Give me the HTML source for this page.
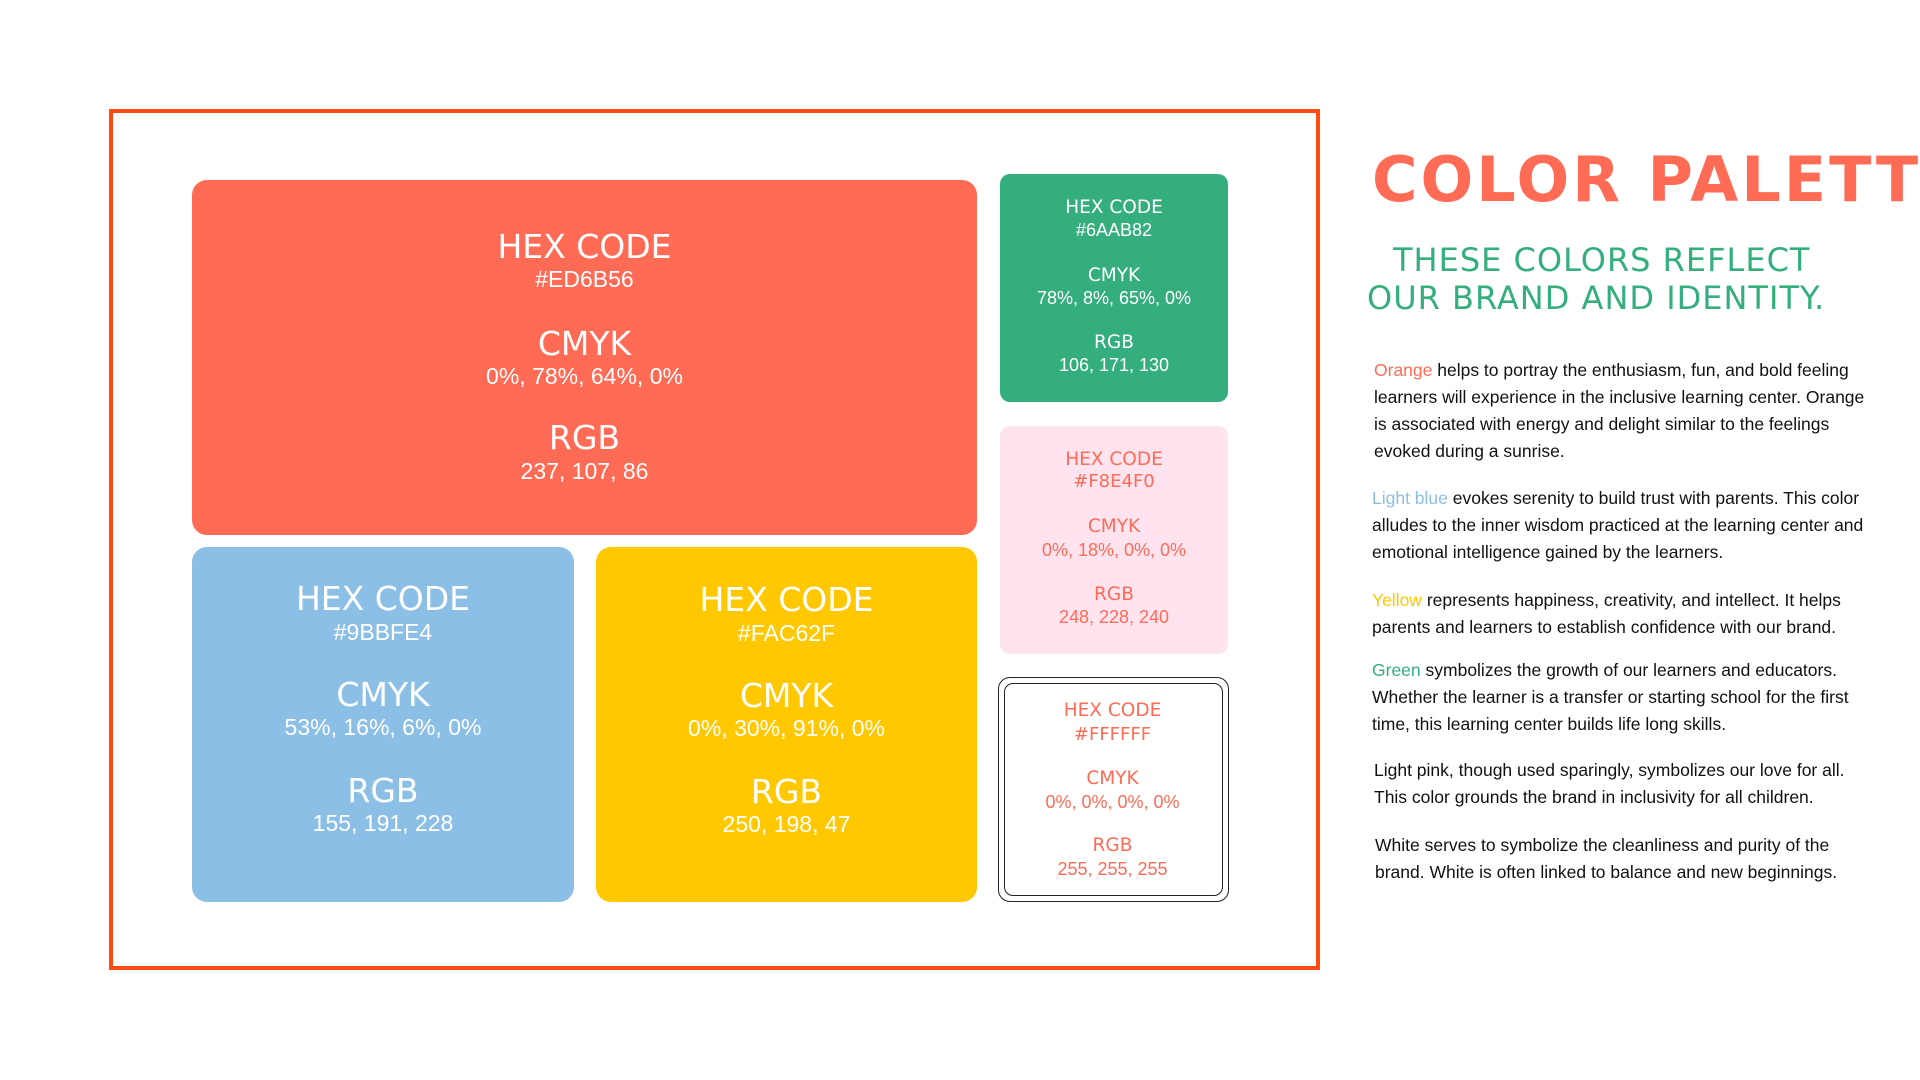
<!DOCTYPE html>
<html><head><meta charset="utf-8">
<style>
html,body{margin:0;padding:0;background:#fff;}
body{width:1920px;height:1080px;position:relative;overflow:hidden;font-family:"Liberation Sans",Arial,sans-serif;}
.abs{position:absolute;}
.frame{position:absolute;left:109px;top:109px;width:1203px;height:853px;border:4px solid #FF4A12;}
.box{position:absolute;border-radius:15px;}
.t{position:absolute;text-align:center;white-space:nowrap;}
.h{font-family:"DejaVu Sans",Verdana,sans-serif;}
.body-line{position:absolute;left:1374px;font-size:17.5px;line-height:26px;color:#111;white-space:nowrap;}
</style></head>
<body>
<div class="frame"></div>

<div class="box" style="left:192px;top:180px;width:785px;height:355px;background:#FF6B55"></div>
<div class="box" style="left:192px;top:547px;width:382px;height:355px;background:#8CBFE6"></div>
<div class="box" style="left:596px;top:547px;width:381px;height:355px;background:#FFC800"></div>
<div class="box" style="left:1000px;top:174px;width:228px;height:228px;background:#35AE7E;border-radius:10px"></div>
<div class="box" style="left:1000px;top:426px;width:228px;height:228px;background:#FFE4F0;border-radius:10px"></div>
<div class="box" style="left:998px;top:677px;width:229px;height:223px;border:1.5px solid #222;border-radius:12px"></div>
<div class="box" style="left:1004px;top:683px;width:217px;height:211px;border:1.5px solid #222;border-radius:9px"></div>

<!-- orange -->
<div class="t h" style="left:192px;width:785px;top:227px;font-size:33px;line-height:40px;color:#fff">HEX CODE</div>
<div class="t" style="left:192px;width:785px;top:265px;font-size:23px;line-height:28px;color:#fff">#ED6B56</div>
<div class="t h" style="left:192px;width:785px;top:324px;font-size:33px;line-height:40px;color:#fff">CMYK</div>
<div class="t" style="left:192px;width:785px;top:362px;font-size:23px;line-height:28px;color:#fff">0%, 78%, 64%, 0%</div>
<div class="t h" style="left:192px;width:785px;top:418px;font-size:33px;line-height:40px;color:#fff">RGB</div>
<div class="t" style="left:192px;width:785px;top:457px;font-size:23px;line-height:28px;color:#fff">237, 107, 86</div>

<!-- blue -->
<div class="t h" style="left:192px;width:382px;top:579px;font-size:33px;line-height:40px;color:#fff">HEX CODE</div>
<div class="t" style="left:192px;width:382px;top:618px;font-size:23px;line-height:28px;color:#fff">#9BBFE4</div>
<div class="t h" style="left:192px;width:382px;top:675px;font-size:33px;line-height:40px;color:#fff">CMYK</div>
<div class="t" style="left:192px;width:382px;top:713px;font-size:23px;line-height:28px;color:#fff">53%, 16%, 6%, 0%</div>
<div class="t h" style="left:192px;width:382px;top:771px;font-size:33px;line-height:40px;color:#fff">RGB</div>
<div class="t" style="left:192px;width:382px;top:809px;font-size:23px;line-height:28px;color:#fff">155, 191, 228</div>

<!-- yellow -->
<div class="t h" style="left:596px;width:381px;top:580px;font-size:33px;line-height:40px;color:#fff">HEX CODE</div>
<div class="t" style="left:596px;width:381px;top:619px;font-size:23px;line-height:28px;color:#fff">#FAC62F</div>
<div class="t h" style="left:596px;width:381px;top:676px;font-size:33px;line-height:40px;color:#fff">CMYK</div>
<div class="t" style="left:596px;width:381px;top:714px;font-size:23px;line-height:28px;color:#fff">0%, 30%, 91%, 0%</div>
<div class="t h" style="left:596px;width:381px;top:772px;font-size:33px;line-height:40px;color:#fff">RGB</div>
<div class="t" style="left:596px;width:381px;top:810px;font-size:23px;line-height:28px;color:#fff">250, 198, 47</div>

<!-- green -->
<div class="t h" style="left:1000px;width:228px;top:197px;font-size:18.5px;line-height:22px;color:#fff">HEX CODE</div>
<div class="t" style="left:1000px;width:228px;top:219px;font-size:18px;line-height:22px;color:#fff">#6AAB82</div>
<div class="t h" style="left:1000px;width:228px;top:265px;font-size:18.5px;line-height:22px;color:#fff">CMYK</div>
<div class="t" style="left:1000px;width:228px;top:287px;font-size:18px;line-height:22px;color:#fff">78%, 8%, 65%, 0%</div>
<div class="t h" style="left:1000px;width:228px;top:332px;font-size:18.5px;line-height:22px;color:#fff">RGB</div>
<div class="t" style="left:1000px;width:228px;top:354px;font-size:18px;line-height:22px;color:#fff">106, 171, 130</div>

<!-- pink -->
<div class="t h" style="left:1000px;width:228px;top:449px;font-size:18.5px;line-height:22px;color:#FF6B55">HEX CODE</div>
<div class="t h" style="left:1000px;width:228px;top:471px;font-size:18px;line-height:22px;color:#FF6B55">#F8E4F0</div>
<div class="t h" style="left:1000px;width:228px;top:516px;font-size:18.5px;line-height:22px;color:#FF6B55">CMYK</div>
<div class="t" style="left:1000px;width:228px;top:539px;font-size:18px;line-height:22px;color:#FF6B55">0%, 18%, 0%, 0%</div>
<div class="t h" style="left:1000px;width:228px;top:584px;font-size:18.5px;line-height:22px;color:#FF6B55">RGB</div>
<div class="t" style="left:1000px;width:228px;top:606px;font-size:18px;line-height:22px;color:#FF6B55">248, 228, 240</div>

<!-- white -->
<div class="t h" style="left:998px;width:229px;top:700px;font-size:18.5px;line-height:22px;color:#FF6B55">HEX CODE</div>
<div class="t h" style="left:998px;width:229px;top:724px;font-size:18px;line-height:22px;color:#FF6B55">#FFFFFF</div>
<div class="t h" style="left:998px;width:229px;top:768px;font-size:18.5px;line-height:22px;color:#FF6B55">CMYK</div>
<div class="t" style="left:998px;width:229px;top:791px;font-size:18px;line-height:22px;color:#FF6B55">0%, 0%, 0%, 0%</div>
<div class="t h" style="left:998px;width:229px;top:835px;font-size:18.5px;line-height:22px;color:#FF6B55">RGB</div>
<div class="t" style="left:998px;width:229px;top:858px;font-size:18px;line-height:22px;color:#FF6B55">255, 255, 255</div>

<!-- right side -->
<div class="abs" style="left:1372px;top:144px;width:480px;font-family:'DejaVu Sans',sans-serif;font-weight:bold;font-size:62px;line-height:72px;color:#FF6B55;letter-spacing:3px;white-space:nowrap">COLOR PALETTE</div>
<div class="abs h" style="left:1393px;top:240px;font-size:32px;line-height:40px;color:#35AE7E;white-space:nowrap;letter-spacing:1px">THESE COLORS REFLECT</div>
<div class="abs h" style="left:1367px;top:278px;font-size:32px;line-height:40px;color:#35AE7E;white-space:nowrap;letter-spacing:1px">OUR BRAND AND IDENTITY.</div>

<div>
<div class="body-line" style="top:357px"><span style="color:#FF6B55">Orange</span> helps to portray the enthusiasm, fun, and bold feeling</div>
<div class="body-line" style="top:384px">learners will experience in the inclusive learning center. Orange</div>
<div class="body-line" style="top:411px">is associated with energy and delight similar to the feelings</div>
<div class="body-line" style="top:438px">evoked during a sunrise.</div>
</div>
<div>
<div class="body-line" style="top:485px;left:1372px"><span style="color:#8CBFE6">Light blue</span> evokes serenity to build trust with parents. This color</div>
<div class="body-line" style="top:512px;left:1372px">alludes to the inner wisdom practiced at the learning center and</div>
<div class="body-line" style="top:539px;left:1372px">emotional intelligence gained by the learners.</div>
</div>
<div>
<div class="body-line" style="top:587px;left:1372px"><span style="color:#FFC800">Yellow</span> represents happiness, creativity, and intellect. It helps</div>
<div class="body-line" style="top:614px;left:1372px">parents and learners to establish confidence with our brand.</div>
</div>
<div>
<div class="body-line" style="top:657px;left:1372px"><span style="color:#35AE7E">Green</span> symbolizes the growth of our learners and educators.</div>
<div class="body-line" style="top:684px;left:1372px">Whether the learner is a transfer or starting school for the first</div>
<div class="body-line" style="top:711px;left:1372px">time, this learning center builds life long skills.</div>
</div>
<div>
<div class="body-line" style="top:757px">Light pink, though used sparingly, symbolizes our love for all.</div>
<div class="body-line" style="top:784px">This color grounds the brand in inclusivity for all children.</div>
</div>
<div>
<div class="body-line" style="top:832px;left:1375px">White serves to symbolize the cleanliness and purity of the</div>
<div class="body-line" style="top:859px;left:1375px">brand. White is often linked to balance and new beginnings.</div>
</div>
</body></html>
